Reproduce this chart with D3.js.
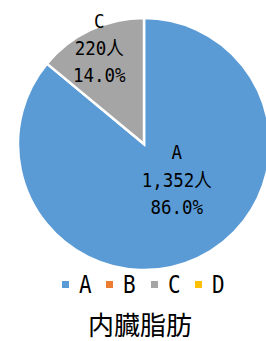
<!DOCTYPE html>
<html>
<head>
<meta charset="utf-8">
<script src="https://cdn.jsdelivr.net/npm/d3@7"></script>
<style>
  body { margin: 0; background: #fff; }
  text { font-family: "DejaVu Sans Mono", "Noto Sans CJK JP", monospace; fill: #000; }
</style>
</head>
<body>
<div id="viz"></div>
<script>
// chart data
const categories = ["A", "B", "C", "D"];
const counts = [1352, 0, 220, 0];
const colors = ["#5B9BD5", "#ED7D31", "#A5A5A5", "#FFC000"];
const title = "内臓脂肪";

const width = 266, height = 341;
const cx = 144, cy = 144, radius = 126;

const svg = d3.select("#viz")
              .append("svg")
              .attr("width", width)
              .attr("height", height);

const total = d3.sum(counts);
const data = categories.map((c, i) => ({ name: c, value: counts[i], color: colors[i] }));

const pie = d3.pie().sort(null).value(d => d.value);
const arcs = pie(data);

const arc = d3.arc().innerRadius(0).outerRadius(radius);

const g = svg.append("g").attr("transform", `translate(${cx},${cy})`);

g.selectAll("path")
 .data(arcs.filter(d => d.value > 0))
 .enter()
 .append("path")
 .attr("d", arc)
 .attr("fill", d => d.data.color)
 .attr("stroke", "#fff")
 .attr("stroke-width", 2.5);

// labels: big slice sits nearer the centre, small slice near the rim
const fmt = d3.format(",");
arcs.filter(d => d.value > 0).forEach(d => {
  const big = d.value / total > 0.5;
  const mid = (d.startAngle + d.endAngle) / 2 + (big ? -0.29 : 0);
  const r = big ? radius * 0.39 : radius * 0.835;
  const x = Math.sin(mid) * r;
  const y = -Math.cos(mid) * r;
  const lines = [d.data.name, fmt(d.value) + "人", (d.value / total * 100).toFixed(1) + "%"];
  const t = g.append("text")
             .attr("text-anchor", "middle")
             .attr("transform", `translate(${x},${y}) scale(1,1.12)`)
             .style("font-size", "17.5px");
  lines.forEach((s, i) => {
    t.append("tspan")
     .attr("x", 0)
     .attr("y", (i - 1) * 24.5 + 5.5)
     .text(s);
  });
});

// legend
const legendX = [62, 106, 151, 195];
const legend = svg.append("g").attr("transform", "translate(0,285)");
categories.forEach((c, i) => {
  legend.append("rect")
        .attr("x", legendX[i])
        .attr("y", -4)
        .attr("width", 7)
        .attr("height", 7)
        .attr("fill", colors[i]);
  legend.append("text")
        .attr("transform", `translate(${legendX[i] + 17},8) scale(1,1.15)`)
        .style("font-size", "21px")
        .text(c);
});

svg.append("text")
   .attr("x", 140)
   .attr("y", 335)
   .attr("text-anchor", "middle")
   .style("font-family", "'Noto Sans CJK JP', sans-serif")
   .style("font-size", "26px")
   .text(title);
</script>
</body>
</html>
